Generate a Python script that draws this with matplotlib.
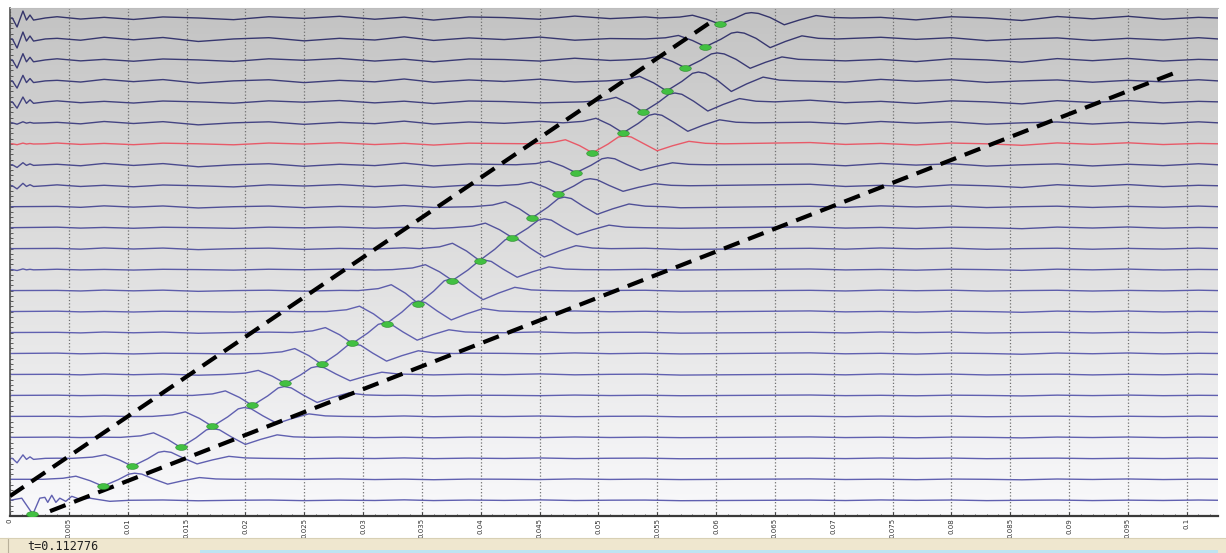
import numpy as np
import matplotlib
matplotlib.use('Agg')
import matplotlib.pyplot as plt
from matplotlib.path import Path
from matplotlib.transforms import Affine2D
from matplotlib.patches import Rectangle
from matplotlib.colors import LinearSegmentedColormap, to_rgb

# 24 channels, top to bottom: first-arrival pick (s) and trough depth (in trace spacings)
pick_times = [0.0603, 0.0591, 0.0574, 0.0558, 0.0538, 0.0521, 0.0495, 0.0481,
              0.0466, 0.0444, 0.0427, 0.0399, 0.0376, 0.0347, 0.0320, 0.0291,
              0.0265, 0.0234, 0.0206, 0.0172, 0.0145, 0.0104, 0.0079, 0.0019]
pick_depth = [0.29, 0.37, 0.38, 0.48, 0.48, 0.48, 0.43, 0.38,
              0.38, 0.52, 0.48, 0.57, 0.52, 0.62, 0.57, 0.52,
              0.52, 0.43, 0.48, 0.48, 0.48, 0.38, 0.33, 0.67]
# extra gain on the ringing after the arrival (near channels ring longer)
tail_gain = [1.6, 1.6, 1.5, 1.5, 1.3, 1.2, 1.1, 1.0, 1.0, 1.0, 1.0, 1.0,
             1.0, 1.0, 1.0, 1.0, 1.0, 1.0, 1.0, 1.0, 1.0, 1.0, 1.0, 1.0]
red_channel = 6

# arrival wavelet: time offsets from the pick and amplitude relative to the trough depth
wavelet_dt = [-0.0051, -0.0034, -0.0023, -0.0011, 0.0, 0.0013, 0.0022, 0.0027,
              0.0033, 0.0043, 0.0055, 0.0068, 0.0082, 0.0096, 0.0112]
wavelet_rel = [0.0, 0.15, 0.45, -0.2, -1.0, -0.05, 0.75, 0.88,
               0.75, 0.05, -0.7, -0.2, 0.25, 0.05, 0.0]
tail_from = 9  # wavelet samples from here on take the tail gain

# source ringing at the start of the near channels
onset_t = [0.0002, 0.0006, 0.0011, 0.0014, 0.0017, 0.0020, 0.0030]
onset_v = [0.0, -0.43, 0.33, -0.10, 0.14, -0.10, 0.0]
onset_gain = [1.0, 1.0, 0.9, 0.8, 0.7, 0.15, 0.1, 0.3, 0.35, 0, 0, 0,
              0.1, 0, 0, 0, 0, 0, 0, 0, 0, 0.5, 0, 0]

# background noise along the traces
ripple_t = [0.004, 0.006, 0.008, 0.0105, 0.013, 0.016, 0.019, 0.022, 0.025, 0.028,
            0.031, 0.0335, 0.036, 0.039, 0.042, 0.045, 0.048, 0.051, 0.054, 0.057,
            0.068, 0.071, 0.074, 0.077, 0.080, 0.083, 0.086, 0.089, 0.092, 0.095,
            0.098, 0.101]
ripple_v = [0.06, -0.05, 0.03, -0.07, 0.05, 0.0, -0.08, 0.06, -0.02, 0.08,
            -0.06, 0.04, -0.1, 0.05, 0.02, -0.06, 0.09, -0.03, 0.05, -0.07,
            0.1, -0.05, 0.03, -0.09, 0.06, 0.0, -0.12, 0.07, -0.04, 0.08,
            -0.06, 0.03]
ripple_gain = [1.0, 1.0, 0.9, 0.9, 0.8, 0.8, 0.6, 0.8, 0.7, 0.5, 0.4, 0.4,
               0.3, 0.3, 0.3, 0.3, 0.3, 0.3, 0.2, 0.2, 0.2, 0.2, 0.2, 0.2]

# the bottom channel is drawn from its own samples (arrival right at the start)
last_t = [0.0, 0.0010, 0.00194, 0.00253, 0.00296, 0.00321, 0.00355, 0.0039,
          0.00423, 0.00474, 0.00525, 0.00593, 0.00678, 0.00848, 0.0102]
last_v = [0.0, 0.1, -0.67, 0.1, 0.14, -0.1, 0.24, -0.1,
          0.1, -0.05, 0.19, 0.05, 0.1, -0.05, 0.0]

# move-out guide lines (time, channel)
upper_guide_t = [0.0, 0.0597]
upper_guide_ch = [22.8, 0.14]
lower_guide_t = [0.0034, 0.0992]
lower_guide_ch = [23.52, 2.57]

tick_values = [0, 0.005, 0.01, 0.015, 0.02, 0.025, 0.03, 0.035, 0.04, 0.045, 0.05,
               0.055, 0.06, 0.065, 0.07, 0.075, 0.08, 0.085, 0.09, 0.095, 0.1]
status_text = 't=0.112776'

t_max = 0.10266
n_ch = len(pick_times)

fig = plt.figure(figsize=(12.26, 5.53), dpi=100)
ax = fig.add_axes([10 / 1226, 37 / 553, 1208 / 1226, 508 / 553])

# gray-to-white backdrop
grad = np.linspace(0, 1, 256) ** 0.85
cmap = LinearSegmentedColormap.from_list('bg', ['#c2c2c2', '#dcdcdc', '#f9f9fb'])
ax.imshow(grad[:, None], extent=[0, 1, 0, 1], transform=ax.transAxes,
          cmap=cmap, aspect='auto', origin='upper', zorder=0)

dark = np.array(to_rgb('#34346a'))
light = np.array(to_rgb('#6060b0'))

for k in range(n_ch):
    if k == n_ch - 1:
        pts = list(zip(last_t, last_v))
        lo, hi = 0.0, last_t[-1]
    else:
        pts = [(0.0, 0.0)]
        if onset_gain[k] > 0:
            pts += [(t, v * onset_gain[k]) for t, v in zip(onset_t, onset_v)]
        for i, (d, r) in enumerate(zip(wavelet_dt, wavelet_rel)):
            g = tail_gain[k] if i >= tail_from else 1.0
            pts.append((pick_times[k] + d, r * pick_depth[k] * g))
        lo, hi = pick_times[k] + wavelet_dt[0], pick_times[k] + wavelet_dt[-1]
    vals = ripple_v if k % 2 == 0 else ripple_v[::-1]
    pts += [(t, v * ripple_gain[k]) for t, v in zip(ripple_t, vals)
            if not (lo - 0.001 <= t <= hi + 0.001) and t > 0.0035]
    pts.append((t_max, 0.0))
    pts.sort()
    tt = [p[0] for p in pts]
    y = [k - p[1] for p in pts]
    if k == red_channel:
        color = '#e85a68'
    else:
        f = min(k / 14.0, 1.0)
        color = tuple(dark * (1 - f) + light * f)
    ax.plot(tt, y, color=color, lw=1.0, zorder=2, solid_joinstyle='round')

ax.plot(upper_guide_t, upper_guide_ch, color='black', lw=3.0,
        dashes=(4.0, 2.2), zorder=4, solid_capstyle='butt')
ax.plot(lower_guide_t, lower_guide_ch, color='black', lw=3.0,
        dashes=(4.0, 2.2), zorder=4, solid_capstyle='butt')

# picked arrivals at the troughs
oval = Path.unit_circle().transformed(Affine2D().scale(1.0, 0.5))
ax.scatter(pick_times, [k + d for k, d in enumerate(pick_depth)], marker=oval,
           s=70, color='#42c042', edgecolors='#2b8a2b', linewidths=0.4, zorder=5)

ax.set_xlim(0, t_max)
ax.set_ylim((516 - 18) / 21, (8 - 18) / 21)

ax.set_xticks(tick_values)
ax.set_xticklabels(['%g' % v for v in tick_values], rotation=90, fontsize=5,
                   color='#333333')
ax.set_xticks(np.arange(0, t_max, 0.001), minor=True)
ax.tick_params(axis='x', which='major', direction='in', length=3, pad=1.5, color='#444444')
ax.tick_params(axis='x', which='minor', direction='in', length=1.5, color='#444444')
ax.set_yticks([])
ax.set_yticks(np.arange(0, n_ch, 0.25), minor=True)
ax.tick_params(axis='y', which='minor', direction='in', length=2, color='#444444')
ax.grid(axis='x', which='major', linestyle=':', color='#707070', lw=0.9, zorder=1)

ax.spines['left'].set_color('#505050')
ax.spines['left'].set_linewidth(1.2)
ax.spines['bottom'].set_color('#3a3a3a')
ax.spines['bottom'].set_linewidth(1.6)
ax.spines['top'].set_color('#bdbdbd')
ax.spines['top'].set_linewidth(0.8)
ax.spines['right'].set_visible(False)

# status bar
fig.add_artist(Rectangle((0, 0), 1, 15 / 553, transform=fig.transFigure,
                         facecolor='#efe7cf', edgecolor='none'))
fig.add_artist(Rectangle((200 / 1226, 0), 1018 / 1226, 3 / 553, transform=fig.transFigure,
                         facecolor='#bfe4f2', edgecolor='none'))
fig.add_artist(plt.Line2D([8 / 1226, 8 / 1226], [0, 15 / 553], transform=fig.transFigure,
                          color='#b8b09a', lw=0.8))
fig.add_artist(plt.Line2D([0, 1], [15 / 553, 15 / 553], transform=fig.transFigure,
                          color='#d8d0b4', lw=0.8))
fig.text(27 / 1226, 6.5 / 553, status_text, family='DejaVu Sans Mono', fontsize=8.5,
         va='center', ha='left', color='#202020')

fig.savefig('out.png', dpi=100)
